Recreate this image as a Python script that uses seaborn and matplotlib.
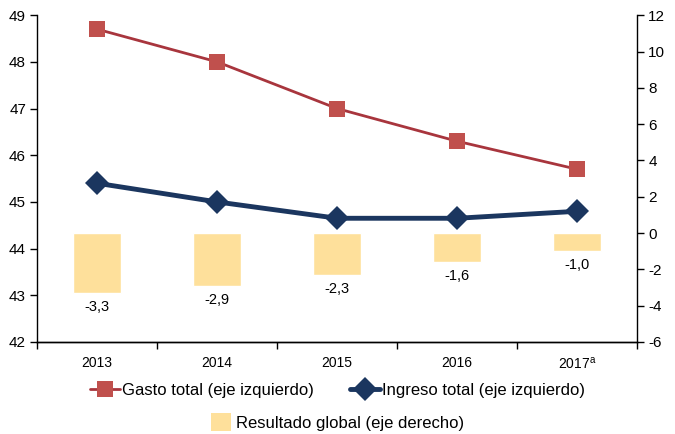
import matplotlib
matplotlib.use("Agg")
import matplotlib.pyplot as plt
import seaborn as sns
import numpy as np
import pandas as pd
from matplotlib.patches import Patch
from matplotlib.lines import Line2D

years = ["2013", "2014", "2015", "2016", "2017$^{\\mathrm{a}}$"]
gasto = [48.7, 48.0, 47.0, 46.3, 45.7]
ingreso = [45.4, 45.0, 44.65, 44.65, 44.8]
resultado = [-3.3, -2.9, -2.3, -1.6, -1.0]
resultado_labels = ["-3,3", "-2,9", "-2,3", "-1,6", "-1,0"]

sns.set_style("ticks")
plt.rcParams["font.family"] = ["Liberation Sans", "DejaVu Sans"]
plt.rcParams["axes.unicode_minus"] = False
plt.rcParams["text.color"] = "black"
plt.rcParams["xtick.color"] = "black"
plt.rcParams["ytick.color"] = "black"
plt.rcParams["axes.labelcolor"] = "black"
plt.rcParams["mathtext.fontset"] = "custom"
plt.rcParams["mathtext.rm"] = "Liberation Sans"

c_gasto = "#C0504D"
c_gasto_line = "#A8353D"
c_ing = "#1B365F"
c_bar = "#FEE09B"

fig = plt.figure(figsize=(6.75, 4.34), dpi=100)
ax = fig.add_axes([0.055, 0.212, 0.889, 0.753])
ax2 = ax.twinx()

pos = np.arange(len(years))

sns.barplot(x=pos, y=resultado, ax=ax2, color=c_bar, width=0.4, saturation=1,
            native_scale=True, zorder=1)
ax2.bar_label(ax2.containers[0], labels=resultado_labels, padding=5, fontsize=10.5)

sns.lineplot(x=pos, y=gasto, ax=ax, color=c_gasto_line, linewidth=2, marker="s",
             markersize=12, markeredgewidth=0, markerfacecolor=c_gasto, zorder=3)
sns.lineplot(x=pos, y=ingreso, ax=ax, color=c_ing, linewidth=3.5, marker="D",
             markersize=12, markeredgewidth=0, zorder=3)

ax.set_zorder(ax2.get_zorder() + 1)
ax.patch.set_visible(False)

ax.set_xlim(-0.5, 4.5)
ax.set_ylim(42, 49)
ax.set_yticks(range(42, 50))
ax2.set_ylim(-6, 12)
ax2.set_yticks(range(-6, 13, 2))

ax.set_xticks(pos)
ax.set_xticklabels(years, fontsize=10)
ax.set_xticks(np.arange(-0.5, 5, 1), minor=True)
ax.tick_params(axis="x", which="major", length=0, pad=10)
ax.tick_params(axis="x", which="minor", length=5, width=1, direction="out")
ax.tick_params(axis="y", length=5, width=1, labelsize=11, pad=3)
ax2.tick_params(axis="y", length=5, width=1, labelsize=11, pad=3)
ax2.set_xlabel("")
ax.set_xlabel("")

for a in (ax, ax2):
    a.spines["top"].set_visible(False)
    for s in ("left", "right", "bottom"):
        a.spines[s].set_color("black")
        a.spines[s].set_linewidth(1)
ax.spines["right"].set_visible(False)
ax2.spines["left"].set_visible(False)

h1 = Line2D([], [], color=c_gasto_line, linewidth=2, marker="s", markersize=12,
            markeredgewidth=0, markerfacecolor=c_gasto)
h2 = Line2D([], [], color=c_ing, linewidth=3.5, marker="D", markersize=12, markeredgewidth=0)
leg1 = fig.legend([h1, h2], ["Gasto total (eje izquierdo)", "Ingreso total (eje izquierdo)"],
                  loc="center", bbox_to_anchor=(0.5, 0.10), ncol=2, frameon=False,
                  fontsize=12, handlelength=1.8, handletextpad=0.1, columnspacing=2.2)
h3 = Patch(facecolor=c_bar, edgecolor="none")
leg2 = fig.legend([h3], ["Resultado global (eje derecho)"], loc="center",
                  bbox_to_anchor=(0.5, 0.027), frameon=False, fontsize=12,
                  handlelength=1.2, handleheight=1.3, handletextpad=0.3)

fig.savefig("out.png", dpi=100)
